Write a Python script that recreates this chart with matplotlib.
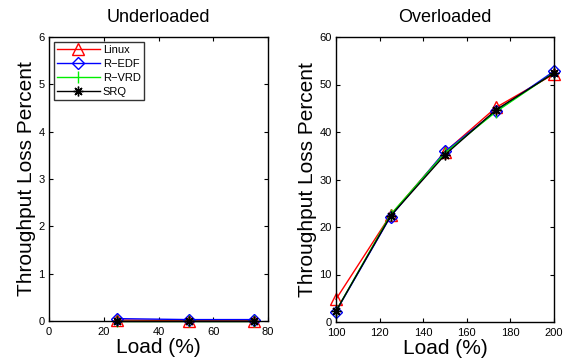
import matplotlib
matplotlib.use('Agg')
import matplotlib.pyplot as plt

plt.rcParams['font.family'] = ['Liberation Sans', 'DejaVu Sans']

# Underloaded case
under_load = [25, 51, 75]
under_linux = [0.02, 0.01, 0.01]
under_redf = [0.05, 0.03, 0.03]
under_rvrd = [0.01, 0.01, 0.01]
under_srq = [0.01, 0.01, 0.01]

# Overloaded case
over_load = [100, 125, 150, 173.5, 200]
over_linux = [4.8, 22.5, 35.8, 45.2, 52.2]
over_redf = [2.2, 22.2, 35.9, 44.4, 52.8]
over_rvrd = [2.3, 22.6, 35.6, 44.3, 52.5]
over_srq = [2.3, 22.3, 35.2, 44.7, 52.4]

names = ['Linux', 'R\u2212EDF', 'R\u2212VRD', 'SRQ']
colors = ['#ff0000', '#0000ff', '#00ee00', '#000000']
markers = ['^', 'D', '|', (8, 2, 0)]
msizes = [8.5, 6.5, 9, 7]

fig = plt.figure(figsize=(5.75, 3.58), dpi=100)
ax1 = fig.add_axes([49 / 575, 1 - 321 / 358, 219 / 575, 284 / 358])
ax2 = fig.add_axes([336 / 575, 1 - 322 / 358, 218 / 575, 285 / 358])

under = [under_linux, under_redf, under_rvrd, under_srq]
over = [over_linux, over_redf, over_rvrd, over_srq]

for ys, name, c, m, ms in zip(under, names, colors, markers, msizes):
    ax1.plot(under_load, ys, color=c, marker=m, markersize=ms,
             markerfacecolor='none', markeredgecolor=c, linewidth=1,
             markeredgewidth=1, label=name, clip_on=False)
for ys, name, c, m, ms in zip(over, names, colors, markers, msizes):
    ax2.plot(over_load, ys, color=c, marker=m, markersize=ms,
             markerfacecolor='none', markeredgecolor=c, linewidth=1,
             markeredgewidth=1, label=name, clip_on=False)

ax1.set_xlim(0, 80)
ax1.set_ylim(0, 6)
ax1.set_xticks([0, 20, 40, 60, 80])
ax1.set_yticks([0, 1, 2, 3, 4, 5, 6])
ax1.set_title('Underloaded', fontsize=13, pad=11)

ax2.set_xlim(100, 200)
ax2.set_ylim(0, 60)
ax2.set_xticks([100, 120, 140, 160, 180, 200])
ax2.set_yticks([0, 10, 20, 30, 40, 50, 60])
ax2.set_title('Overloaded', fontsize=13, pad=11)

for ax in (ax1, ax2):
    ax.set_xlabel('Load (%)', fontsize=15, labelpad=1)
    ax.set_ylabel('Throughput Loss Percent', fontsize=15, labelpad=2)
    ax.tick_params(direction='in', labelsize=8, length=3, top=True, right=True)
    ax.tick_params(axis='x', pad=4)
    ax.tick_params(axis='y', pad=3)
    for s in ax.spines.values():
        s.set_linewidth(1)

leg = ax1.legend(loc='upper left', fontsize=8, frameon=True, fancybox=False,
                 edgecolor='black', borderpad=0.3, labelspacing=0.35,
                 handlelength=3.8, handletextpad=0.3, borderaxespad=0.45)
leg.get_frame().set_linewidth(1)

fig.savefig('out.png', dpi=100)
